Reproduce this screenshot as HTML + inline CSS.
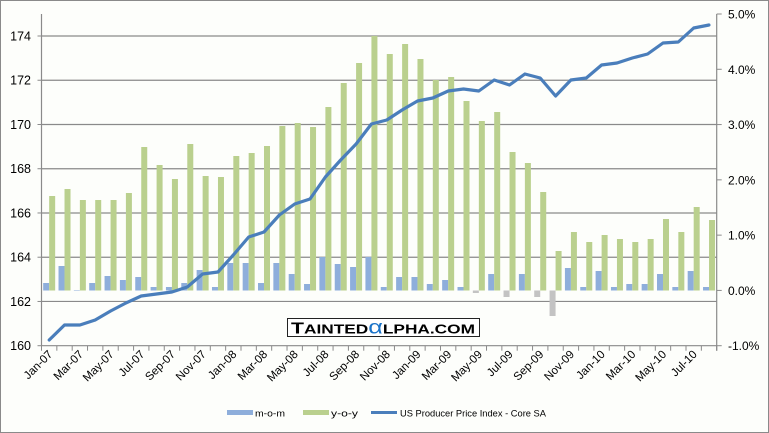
<!DOCTYPE html>
<html><head><meta charset="utf-8"><style>
html,body{margin:0;padding:0;background:#fff}
svg{display:block}
text{font-family:"Liberation Sans",sans-serif;fill:#000}
</style></head><body>
<svg id="c" width="769" height="433" xmlns="http://www.w3.org/2000/svg">
<rect x="0.5" y="0.5" width="768" height="432" fill="#fdfefb" stroke="#8a8a8a"/>
<g id="g"></g>
</svg>
<script>
const NS="http://www.w3.org/2000/svg";
const g=document.getElementById('g');
function el(t,a,txt){const e=document.createElementNS(NS,t);for(const k in a)e.setAttribute(k,a[k]);if(txt!==undefined)e.textContent=txt;g.appendChild(e);return e;}
const L=41.5,R=716.7,T=14,B=345.7,base=290.5,cw=(R-L)/44;
for(let v=162;v<=174;v+=2){const y=B-(v-160)*(B-36)/14;el('line',{x1:L,x2:R,y1:y,y2:y,stroke:'#8a8a8a','stroke-width':1.2});}
const blue=[283,266,290,283,276,280,277,287,287,283,270,287,263,263,283,263,274,284,257,264,267,257,287,277,277,284,280,287,-293,274,-297,274,-297,-316,268,287,271,287,284,284,274,287,271,287];
const green=[196,189,200,200,200,193,147,165,179,144,176,177,156,153,146,126,123,127,107,83,63,36,54,44,59,80,77,101,121,112,152,163,192,251,232,242,235,239,242,239,219,232,207,220];
for(let i=0;i<44;i++){
 const c=L+cw*(i+0.5);
 let b=blue[i];
 if(b<0){b=-b;el('rect',{x:c-6,y:base,width:6,height:b-base,fill:'#c3c3c3'});}
 else if(b<base){el('rect',{x:c-6,y:b,width:6,height:base-b,fill:'#8eaedb'});}
 el('rect',{x:c,y:green[i],width:6,height:base-green[i],fill:'#bad08e'});
}
const ly=[340,325,325,320,311,303,296,294,292,287,274,272,255,237,232,215,204,199,177,160,144,124,120,110,101,98,91,89,91,80,85,74,78,96,80,78,65,63,58,54,43,42,28,25];
let pts=ly.map((y,i)=>(L+cw*(i+0.5)).toFixed(1)+','+y).join(' ');
el('polyline',{points:pts,fill:'none',stroke:'#4a7ebb','stroke-width':3.2,'stroke-linejoin':'round','stroke-linecap':'round'});
el('line',{x1:L,x2:L,y1:T,y2:B,stroke:'#8a8a8a','stroke-width':1.2});
el('line',{x1:R,x2:R,y1:T,y2:B+5,stroke:'#8a8a8a','stroke-width':1.2});
el('line',{x1:L,x2:R,y1:B,y2:B,stroke:'#8a8a8a','stroke-width':1.2});
for(let v=160;v<=174;v+=2){const y=B-(v-160)*(B-36)/14;el('line',{x1:L-4,x2:L,y1:y,y2:y,stroke:'#8a8a8a'});el('text',{x:31,y:y+4.5,'text-anchor':'end','font-size':12.5},v);}
for(let p=-1;p<=5;p++){const y=B-(p+1)*(B-T)/6;el('line',{x1:R,x2:R+5,y1:y,y2:y,stroke:'#8a8a8a'});el('text',{x:728,y:y+4.5,'font-size':12},p.toFixed(1)+'%');}
const mn=['Jan','Mar','May','Jul','Sep','Nov'];
for(let i=0;i<=44;i++){const x=L+cw*i;el('line',{x1:x,x2:x,y1:B,y2:B+5,stroke:'#8a8a8a'});}
for(let i=0;i<44;i+=2){const c=L+cw*(i+0.5);const yr=7+Math.floor(i/12);const lab=mn[(i%12)/2]+'-'+(yr<10?'0'+yr:yr);
 el('text',{x:c+4,y:355,'text-anchor':'end','font-size':11.5,transform:`rotate(-45 ${c+4} 355)`},lab);}
el('rect',{x:287.5,y:318.5,width:192,height:18,fill:'#fff',stroke:'#222','stroke-width':1});
const t=el('text',{x:291,y:333.5,'font-size':13,'font-weight':'bold',textLength:184,lengthAdjust:'spacingAndGlyphs'});
t.innerHTML='<tspan font-size="16">T</tspan>AINTED<tspan fill="#1a73c8" font-size="19" font-weight="normal">α</tspan>LPHA.COM';
el('rect',{x:227,y:410,width:26,height:5,fill:'#8eaedb'});
el('text',{x:255,y:416.5,'font-size':9.5,textLength:30,lengthAdjust:'spacingAndGlyphs'},'m-o-m');
el('rect',{x:303,y:410,width:26,height:5,fill:'#bad08e'});
el('text',{x:331,y:416.5,'font-size':9.5,textLength:27,lengthAdjust:'spacingAndGlyphs'},'y-o-y');
el('line',{x1:371,x2:397,y1:412.5,y2:412.5,stroke:'#4a7ebb','stroke-width':3});
el('text',{x:400,y:416.5,'font-size':9.5,textLength:146,lengthAdjust:'spacingAndGlyphs'},'US Producer Price Index - Core SA');
</script>
</body></html>
